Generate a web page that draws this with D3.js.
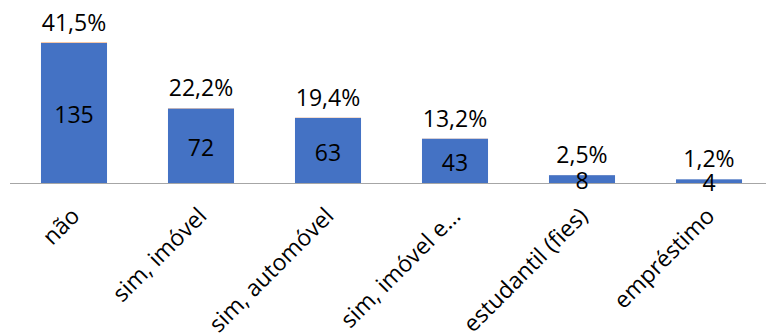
<!DOCTYPE html>
<html>
<head>
<meta charset="utf-8">
<script src="https://cdn.jsdelivr.net/npm/d3@7"></script>
<style>
  body { margin: 0; background: #fff; }
  svg { display: block; font-family: "Open Sans", "Liberation Sans", sans-serif; }
</style>
</head>
<body>
<svg id="chart"></svg>
<script>
const categories = ["não", "sim, imóvel", "sim, automóvel", "sim, imóvel e…", "estudantil (fies)", "empréstimo"];
const counts = [135, 72, 63, 43, 8, 4];
const shares = [0.415, 0.222, 0.194, 0.132, 0.025, 0.012];
const shareLabels = ["41,5%", "22,2%", "19,4%", "13,2%", "2,5%", "1,2%"];

const width = 766, height = 334;
const svg = d3.select("#chart").attr("width", width).attr("height", height);

const baseY = 183.5;
const x = d3.scaleBand()
  .domain(categories)
  .range([10.5, 772.5])
  .paddingInner(0.48)
  .paddingOuter(0.24);

const y = d3.scaleLinear()
  .domain([0, 150])
  .range([baseY, 27.4]);

const data = categories.map((c, i) => ({ c, n: counts[i], p: shares[i], label: shareLabels[i] }));

// count series
svg.append("g").selectAll("rect")
  .data(data)
  .join("rect")
  .attr("x", d => x(d.c))
  .attr("width", x.bandwidth())
  .attr("y", d => y(d.n))
  .attr("height", d => y(0) - y(d.n))
  .attr("fill", "#4472C4");

// share series, stacked on top (tiny)
svg.append("g").selectAll("rect")
  .data(data)
  .join("rect")
  .attr("x", d => x(d.c))
  .attr("width", x.bandwidth())
  .attr("y", d => y(d.n + d.p))
  .attr("height", d => y(d.n) - y(d.n + d.p))
  .attr("fill", "#ED7D31");

// axis line
svg.append("line")
  .attr("x1", 10).attr("x2", width)
  .attr("y1", baseY).attr("y2", baseY)
  .attr("stroke", "#a6a6a6")
  .attr("stroke-width", 1);

// count labels
svg.append("g").selectAll("text")
  .data(data)
  .join("text")
  .attr("x", d => x(d.c) + x.bandwidth() / 2)
  .attr("y", d => (y(0) + y(d.n)) / 2 + 10)
  .attr("text-anchor", "middle")
  .attr("font-size", 23)
  .attr("fill", "#000")
  .text(d => d.n);

// percent labels
svg.append("g").selectAll("text")
  .data(data)
  .join("text")
  .attr("x", d => x(d.c) + x.bandwidth() / 2)
  .attr("y", d => y(d.n + d.p) - 12)
  .attr("text-anchor", "middle")
  .attr("font-size", 23)
  .attr("fill", "#000")
  .text(d => d.label);

// category labels, rotated
svg.append("g").selectAll("text")
  .data(data)
  .join("text")
  .attr("transform", d => `translate(${x(d.c) + x.bandwidth() / 2 + 7},${baseY + 34}) rotate(-45)`)
  .attr("text-anchor", "end")
  .attr("font-size", 23)
  .attr("fill", "#000")
  .text(d => d.c);
</script>
</body>
</html>
